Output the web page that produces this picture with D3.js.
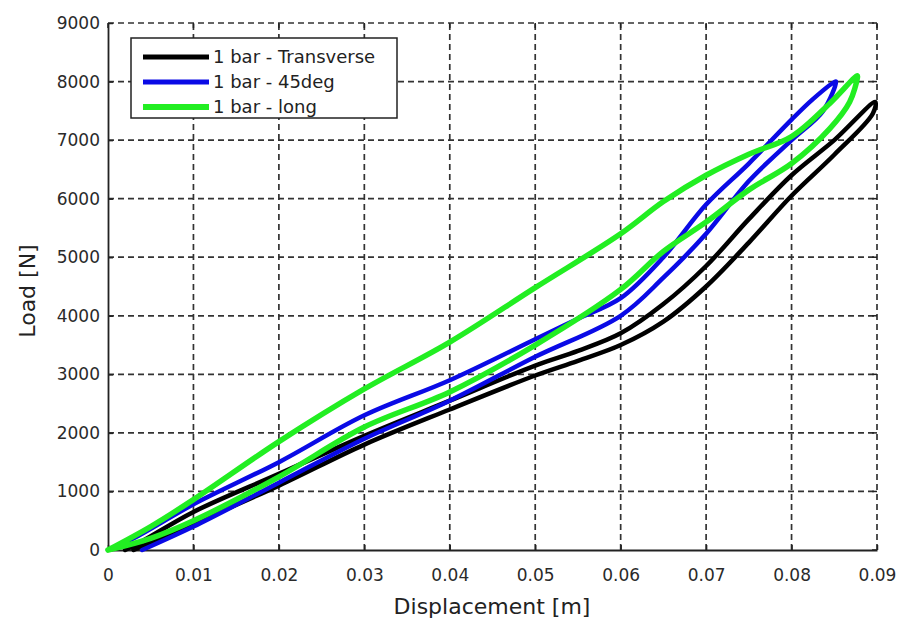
<!DOCTYPE html>
<html>
<head>
<meta charset="utf-8">
<script src="https://cdn.jsdelivr.net/npm/d3@7"></script>
<style>
  body { margin: 0; background: #fff; }
  svg { display: block; font-family: "DejaVu Sans", "Liberation Sans", Arial, sans-serif; }
</style>
</head>
<body>
<svg id="chart" width="898" height="624"></svg>
<script>
// ---- data (displacement [m], load [N]) ----
const seriesNames = ["1 bar - Transverse", "1 bar - 45deg", "1 bar - long"];
const seriesColors = ["#000000", "#0a0ae6", "#22ee22"];

const transverseX = [0.003, 0.01, 0.02, 0.03, 0.04, 0.05, 0.055, 0.06, 0.065, 0.07, 0.075, 0.08, 0.085, 0.0895,
                     0.0898, 0.085, 0.08, 0.075, 0.07, 0.065, 0.06, 0.055, 0.05, 0.04, 0.03, 0.02, 0.01, 0.004, 0.002];
const transverseY = [0, 450, 1100, 1800, 2400, 2980, 3230, 3500, 3900, 4500, 5250, 6050, 6750, 7450,
                     7650, 7000, 6400, 5650, 4850, 4200, 3700, 3400, 3150, 2550, 1950, 1300, 650, 150, 0];

const deg45X = [0.004, 0.01, 0.02, 0.03, 0.04, 0.05, 0.06, 0.065, 0.07, 0.075, 0.08, 0.0837, 0.0852,
                0.085, 0.0825, 0.08, 0.075, 0.07, 0.065, 0.06, 0.055, 0.05, 0.04, 0.03, 0.02, 0.01, 0.003, 0];
const deg45Y = [0, 400, 1150, 1900, 2550, 3300, 4000, 4650, 5400, 6300, 7000, 7500, 8000,
                7990, 7700, 7350, 6600, 5900, 5000, 4300, 3950, 3600, 2900, 2300, 1500, 780, 200, 0];

const longX = [0, 0.005, 0.01, 0.02, 0.03, 0.04, 0.05, 0.06, 0.065, 0.07, 0.075, 0.08, 0.0845, 0.0868, 0.0877,
               0.0877, 0.0845, 0.08, 0.075, 0.07, 0.065, 0.06, 0.05, 0.04, 0.03, 0.02, 0.01, 0.005, 0];
const longY = [0, 200, 500, 1250, 2100, 2700, 3500, 4450, 5100, 5600, 6150, 6600, 7200, 7650, 8060,
               8100, 7630, 7060, 6760, 6400, 5950, 5400, 4480, 3550, 2750, 1850, 860, 400, 0];

const xTicks = [0, 0.01, 0.02, 0.03, 0.04, 0.05, 0.06, 0.07, 0.08, 0.09];
const yTicks = [0, 1000, 2000, 3000, 4000, 5000, 6000, 7000, 8000, 9000];
const xLabel = "Displacement [m]";
const yLabel = "Load [N]";

// ---- layout ----
const svg = d3.select("#chart");
const pLeft = 108, pRight = 877, pTop = 23, pBottom = 550;
const x = d3.scaleLinear().domain([0, 0.09]).range([pLeft, pRight]);
const y = d3.scaleLinear().domain([0, 9000]).range([pBottom, pTop]);
const FONT = "'DejaVu Sans', 'Liberation Sans', Arial, sans-serif";

// grid
const grid = svg.append("g").attr("stroke", "#333").attr("stroke-width", 1.7)
  .attr("stroke-dasharray", "6,4");
grid.selectAll("line.v").data(xTicks.slice(1)).join("line")
  .attr("x1", d => x(d)).attr("x2", d => x(d)).attr("y1", pBottom).attr("y2", pTop);
grid.selectAll("line.h").data(yTicks.slice(1)).join("line")
  .attr("x1", pLeft).attr("x2", pRight).attr("y1", d => y(d)).attr("y2", d => y(d));

// axes
const xAxis = d3.axisBottom(x).tickValues(xTicks).tickSizeInner(-5).tickSizeOuter(0)
  .tickFormat(d => d === 0 ? "0" : d3.format(".2f")(d)).tickPadding(19);
const yAxis = d3.axisLeft(y).tickValues(yTicks).tickSizeInner(-5).tickSizeOuter(0)
  .tickFormat(d3.format("d")).tickPadding(8);

const gx = svg.append("g").attr("transform", `translate(0,${pBottom})`).call(xAxis);
const gy = svg.append("g").attr("transform", `translate(${pLeft},0)`).call(yAxis);
[gx, gy].forEach(g => {
  g.select(".domain").attr("stroke", "#222").attr("stroke-width", 1.8);
  g.selectAll(".tick line").attr("stroke", "#222").attr("stroke-width", 1.5);
  g.selectAll(".tick text").attr("fill", "#2a2a2a").style("font-size", "17px")
    .style("font-family", FONT);
});

// top and right ticks (inward)
const tk = svg.append("g").attr("stroke", "#222").attr("stroke-width", 1.5);
tk.selectAll("line.t").data(xTicks).join("line")
  .attr("x1", d => x(d)).attr("x2", d => x(d)).attr("y1", pTop).attr("y2", pTop + 5);
tk.selectAll("line.r").data(yTicks).join("line")
  .attr("x1", pRight).attr("x2", pRight - 5).attr("y1", d => y(d)).attr("y2", d => y(d));

// series
const line = d3.line().x(d => x(d[0])).y(d => y(d[1])).curve(d3.curveCatmullRom.alpha(0.5));
const seriesData = [
  d3.zip(transverseX, transverseY),
  d3.zip(deg45X, deg45Y),
  d3.zip(longX, longY)
];
const widths = [4.5, 4.5, 5.5];
const plot = svg.append("g");
seriesData.forEach((pts, i) => {
  plot.append("path").datum(pts)
    .attr("d", line)
    .attr("fill", "none")
    .attr("stroke", seriesColors[i])
    .attr("stroke-width", widths[i])
    .attr("stroke-linejoin", "round")
    .attr("stroke-linecap", "round");
});

// axis titles
svg.append("text").attr("x", 492).attr("y", 614)
  .attr("text-anchor", "middle").attr("fill", "#222").style("font-size", "22px")
  .style("font-family", FONT).text(xLabel);
svg.append("text").attr("transform", `translate(35,291) rotate(-90)`)
  .attr("text-anchor", "middle").attr("fill", "#222").style("font-size", "22px")
  .style("font-family", FONT).text(yLabel);

// legend
const lg = svg.append("g");
const lgX = 131, lgY = 38, lgW = 266, lgH = 80;
lg.append("rect").attr("x", lgX).attr("y", lgY).attr("width", lgW).attr("height", lgH)
  .attr("fill", "#fff").attr("stroke", "#222").attr("stroke-width", 1.5);
const rowY = [57, 82, 107];
seriesNames.forEach((name, i) => {
  lg.append("line").attr("x1", 143).attr("x2", 209).attr("y1", rowY[i]).attr("y2", rowY[i])
    .attr("stroke", seriesColors[i]).attr("stroke-width", widths[i] + 0.5);
  lg.append("text").attr("x", 213).attr("y", rowY[i]).attr("dy", "0.35em")
    .attr("fill", "#222").style("font-size", "18px").style("font-family", FONT).text(name);
});
</script>
</body>
</html>
